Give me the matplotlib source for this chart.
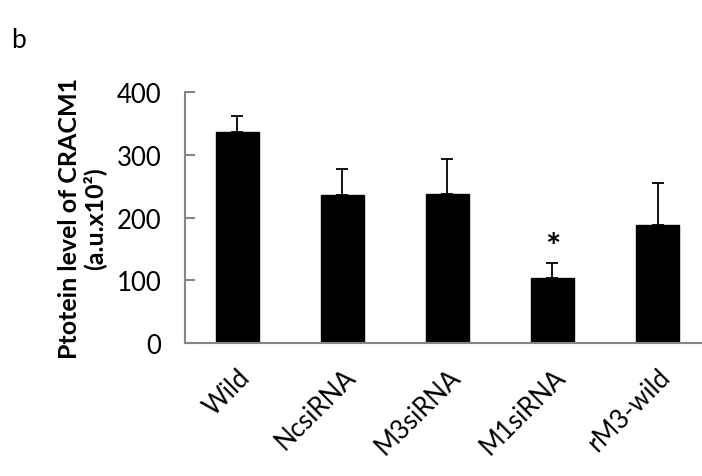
import numpy as np
import matplotlib
matplotlib.use("Agg")
import matplotlib.pyplot as plt
import matplotlib.transforms as mtransforms

plt.rcParams['font.family'] = ['Lato', 'DejaVu Sans']

groups = ["Wild", "NcsiRNA", "M3siRNA", "M1siRNA", "rM3-wild"]
means = [336, 236, 238, 104, 188]
errs = [25, 41, 56, 24, 67]
star_group = "M1siRNA"
star_y = 152

fig = plt.figure(figsize=(7.02, 4.77), dpi=100)
ax = fig.add_axes([0.2635, 0.2788, 0.7479, 0.5262])

x = np.arange(len(groups))
ax.bar(x, means, width=0.41, color='black', edgecolor='black', zorder=2)
ax.errorbar(x, means, yerr=[np.zeros(len(errs)), errs], fmt='none',
            ecolor='black', elinewidth=1.3, capsize=4, capthick=1.3, zorder=1)

i = groups.index(star_group)
ax.text(x[i], star_y, "*", ha='center', va='center', fontsize=26, fontweight='bold')

ax.set_xlim(-0.5, len(groups) - 0.5)
ax.set_ylim(0, 400)
ax.set_yticks([0, 100, 200, 300, 400])
ax.set_xticks(x)
ax.set_xticklabels(groups, rotation=45, ha='right', va='top', rotation_mode='anchor')

# shift the rotated labels a little to the left
offset = mtransforms.ScaledTranslation(-5 / 72, 0, fig.dpi_scale_trans)
for lab in ax.get_xticklabels():
    lab.set_transform(lab.get_transform() + offset)

for s in ['top', 'right']:
    ax.spines[s].set_visible(False)
for s in ['left', 'bottom']:
    ax.spines[s].set_color('#868686')
    ax.spines[s].set_linewidth(1.5)

ax.tick_params(axis='y', direction='in', length=7, width=1.5, color='#868686',
               labelsize=18.5, pad=17)
ax.tick_params(axis='x', length=0, labelsize=18.5, pad=15)

fig.text(0.117, 0.542, "Ptotein level of CRACM1\n(a.u.x10²)", fontsize=18,
         fontweight='bold', rotation=90, ha='center', va='center',
         multialignment='center', linespacing=1.1)

fig.text(0.016, 0.9, "b", fontsize=19)

plt.savefig("out.png", dpi=100)
